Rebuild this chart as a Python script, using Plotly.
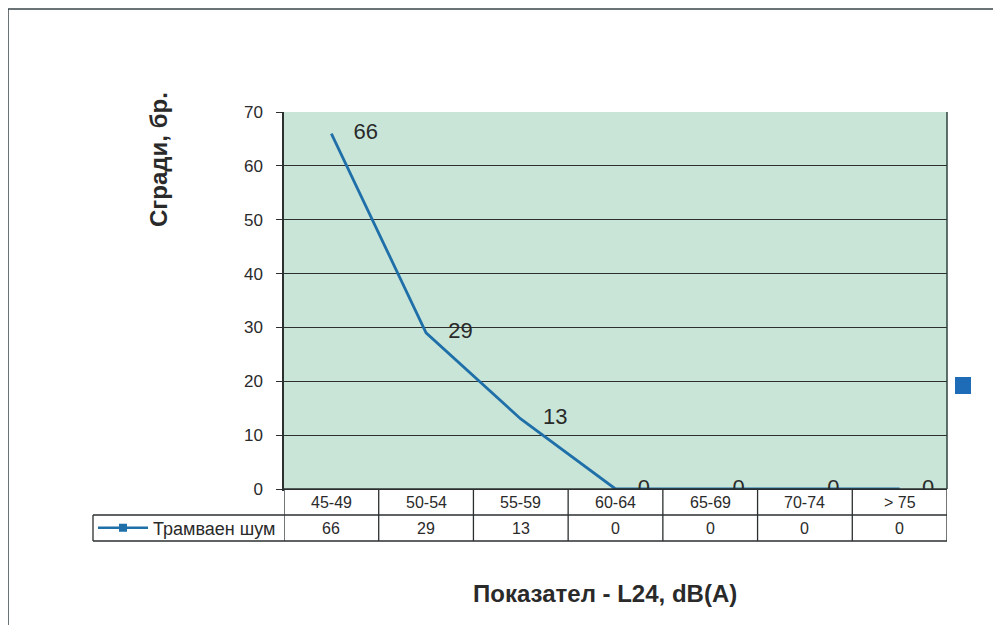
import plotly.graph_objects as go

# ---- data ----
categories = ["45-49", "50-54", "55-59", "60-64", "65-69", "70-74", "> 75"]
values = [66, 29, 13, 0, 0, 0, 0]
series_name = "Трамваен шум"
y_ticks = [0, 10, 20, 30, 40, 50, 60, 70]
y_title = "Сгради, бр."
x_title = "Показател - L24, dB(A)"

# ---- layout helpers (page pixel -> paper) ----
OFF = 8  # default body margin of the html page
FW, FH = 1001, 625
L, R, T, B = 284, 947, 112, 489
PW, PH = R - L, B - T


def px(x):
    return (x - L) / PW


def py(y):
    return (B - y) / PH


FONT = "Liberation Sans, Arial, sans-serif"
LINE_COLOR = "#1f6fa8"
GRID = "#2b2f2f"
TXT = "#2a2a2a"

fig = go.Figure()

fig.add_trace(go.Scatter(
    x=categories, y=values, mode="lines+markers+text",
    line=dict(color=LINE_COLOR, width=2.8),
    marker=dict(size=34, color="rgba(0,0,0,0)"),
    text=[str(v) for v in values], textposition="middle right",
    textfont=dict(family=FONT, size=22, color=TXT),
    cliponaxis=False, showlegend=False, hoverinfo="skip",
))

# legend-only trace (line + square marker)
fig.add_trace(go.Scatter(
    x=[None], y=[None], mode="lines+markers", name=series_name,
    line=dict(color=LINE_COLOR, width=2.5),
    marker=dict(symbol="square", size=8, color=LINE_COLOR),
    showlegend=True,
))

shapes = []
line_style = dict(color=GRID, width=1.3)
row1, row2 = 515, 541
n = len(categories)
# white cover of the table's first row (hides lower half of the zero labels)
shapes.append(dict(type="rect", xref="paper", yref="paper", x0=0, x1=1.0,
                   y0=py(row1), y1=py(B + 1), fillcolor="white", line=dict(width=0),
                   layer="above"))
# horizontal table lines
shapes.append(dict(type="line", xref="paper", yref="paper", x0=px(93), x1=1, y0=py(row1), y1=py(row1), line=line_style))
shapes.append(dict(type="line", xref="paper", yref="paper", x0=px(93), x1=1, y0=py(row2), y1=py(row2), line=line_style))
# vertical table lines at category boundaries
for i in range(n + 1):
    shapes.append(dict(type="line", xref="x", yref="paper", x0=i - 0.5, x1=i - 0.5,
                       y0=0, y1=py(row2), line=line_style))
shapes.append(dict(type="line", xref="paper", yref="paper", x0=px(93), x1=px(93),
                   y0=py(row1), y1=py(row2), line=line_style))
# axis line at bottom (redraw above cover)
shapes.append(dict(type="line", xref="paper", yref="paper", x0=0, x1=1, y0=0, y1=0,
                   line=dict(color=GRID, width=1.5)))
# plot right border
shapes.append(dict(type="line", xref="paper", yref="paper", x0=1, x1=1, y0=0, y1=1,
                   line=dict(color="#2f4040", width=1.5)))
# outer page frame
shapes.append(dict(type="rect", xref="paper", yref="paper", x0=px(8), x1=px(1010),
                   y0=py(640), y1=py(9), line=dict(color="#3a4548", width=1.5)))
# small blue square remnant at right
shapes.append(dict(type="rect", xref="paper", yref="paper", x0=px(955), x1=px(971),
                   y0=py(394), y1=py(377), fillcolor="#1e6cb8", line=dict(width=0)))

annotations = []
for c in categories:
    annotations.append(dict(x=c, xref="x", y=py((B + row1) / 2), yref="paper",
                            xanchor="center", yanchor="middle",
                            text=c, showarrow=False,
                            font=dict(family=FONT, size=16, color=TXT)))
for c, v in zip(categories, values):
    annotations.append(dict(x=c, xref="x", y=py((row1 + row2) / 2), yref="paper",
                            xanchor="center", yanchor="middle",
                            text=str(v), showarrow=False,
                            font=dict(family=FONT, size=16, color=TXT)))
annotations.append(dict(x=px(158), y=py(160), xref="paper", yref="paper",
                        xanchor="center", yanchor="middle",
                        text="<b>" + y_title + "</b>", textangle=-90, showarrow=False,
                        font=dict(family=FONT, size=24, color=TXT)))
annotations.append(dict(x=px(605), y=py(593), xref="paper", yref="paper",
                        xanchor="center", yanchor="middle",
                        text="<b>" + x_title + "</b>", showarrow=False,
                        font=dict(family=FONT, size=24, color=TXT)))

fig.update_layout(
    width=FW - OFF, height=FH - OFF,
    margin=dict(l=L - OFF, r=FW - R, t=T - OFF, b=FH - B, pad=0),
    paper_bgcolor="white", plot_bgcolor="#c9e5d8",
    font=dict(family=FONT, color=TXT),
    shapes=shapes, annotations=annotations,
    legend=dict(x=px(93), y=py((row1 + row2) / 2), xanchor="left", yanchor="middle",
                bgcolor="rgba(0,0,0,0)", font=dict(family=FONT, size=18, color=TXT),
                itemwidth=50, borderwidth=0),
    xaxis=dict(type="category", range=[-0.5, n - 0.5], showticklabels=False,
               showgrid=False, zeroline=False, showline=True, linecolor=GRID,
               linewidth=1.5, mirror=False, fixedrange=True),
    yaxis=dict(range=[0, 70], tickvals=y_ticks, ticks="outside", ticklen=6,
               tickcolor=GRID, showgrid=True, gridcolor=GRID, gridwidth=1.2,
               zeroline=False, showline=True, linecolor=GRID, linewidth=1.5,
               tickfont=dict(family=FONT, size=17, color=TXT), ticklabelstandoff=10),
)

fig.write_html("out.html")
